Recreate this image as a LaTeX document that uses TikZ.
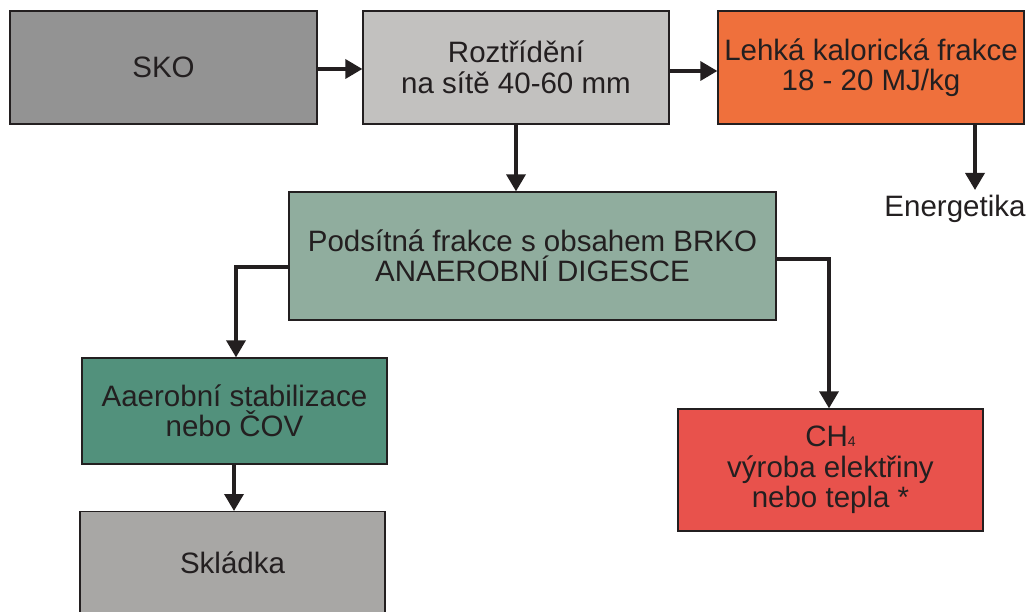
\documentclass[tikz,border=0pt]{standalone}
\usepackage{fontspec}
\setmainfont{Liberation Sans}
\usetikzlibrary{arrows.meta}
\definecolor{cSKO}{HTML}{939393}
\definecolor{cRoz}{HTML}{C2C1BF}
\definecolor{cLeh}{HTML}{EF703C}
\definecolor{cPod}{HTML}{90AD9E}
\definecolor{cAae}{HTML}{52917C}
\definecolor{cCH}{HTML}{E8524C}
\definecolor{cSkl}{HTML}{A8A7A5}
\definecolor{cInk}{HTML}{231F20}
\tikzset{
  txt/.style={text=cInk, font=\fontsize{29.5}{30.5}\selectfont},
  box/.style={txt, draw=cInk, line width=1.3pt, inner sep=0pt, align=center},
  arr/.style={draw=cInk, line width=3.5pt, -{Triangle[length=17pt,width=19pt]}},
}
\begin{document}
\begin{tikzpicture}[x=1pt,y=-1pt]
\useasboundingbox (0,0) rectangle (1029,612);
\clip (0,0) rectangle (1029,612);
\fill[white] (0,0) rectangle (1029,612);
\node[box, fill=cSKO, minimum width=307pt, minimum height=113pt] (sko) at (163.5,67.5) {SKO};
\node[box, fill=cRoz, minimum width=306pt, minimum height=113pt] (roz) at (516,67.5) {Roztřídění\\na sítě 40-60 mm};
\node[box, fill=cLeh, minimum width=306pt, minimum height=113pt] (leh) at (871,67.5) {Lehká kalorická frakce\\18 - 20 MJ/kg};
\node[txt, inner sep=0pt] (ene) at (955,209) {Energetika};
\node[box, fill=cPod, minimum width=487pt, minimum height=128pt] (pod) at (532.5,256) {Podsítná frakce s obsahem BRKO\\ANAEROBNÍ DIGESCE};
\node[box, fill=cAae, minimum width=305pt, minimum height=106pt] (aae) at (234.5,411) {Aaerobní stabilizace\\nebo ČOV};
\node[box, fill=cCH, minimum width=305pt, minimum height=122pt] (ch) at (830.5,470) {CH{\fontsize{14}{14}\selectfont 4}\\výroba elektřiny\\nebo tepla *};
\node[box, fill=cSkl, minimum width=305pt, minimum height=104pt, anchor=north] (skl) at (232.5,511) {};
\node[txt, inner sep=0pt] (skltext) at (232.5,563) {Skládka};
\coordinate (eneTop) at (975,190);
\draw[arr] (sko.east |- 0,69) -- (roz.west |- 0,69);
\draw[arr] (roz.east |- 0,71) -- (leh.west |- 0,71);
\draw[arr] (roz.south) -- (pod.north -| roz.south);
\draw[arr] (leh.south -| eneTop) -- (eneTop);
\draw[arr] (pod.west |- 0,267) -| (aae.north -| 236,0);
\draw[arr] (pod.east |- 0,259) -| (ch.north -| 829,0);
\draw[arr] (aae.south -| 234,0) -- (skl.north -| 234,0);
\end{tikzpicture}
\end{document}
